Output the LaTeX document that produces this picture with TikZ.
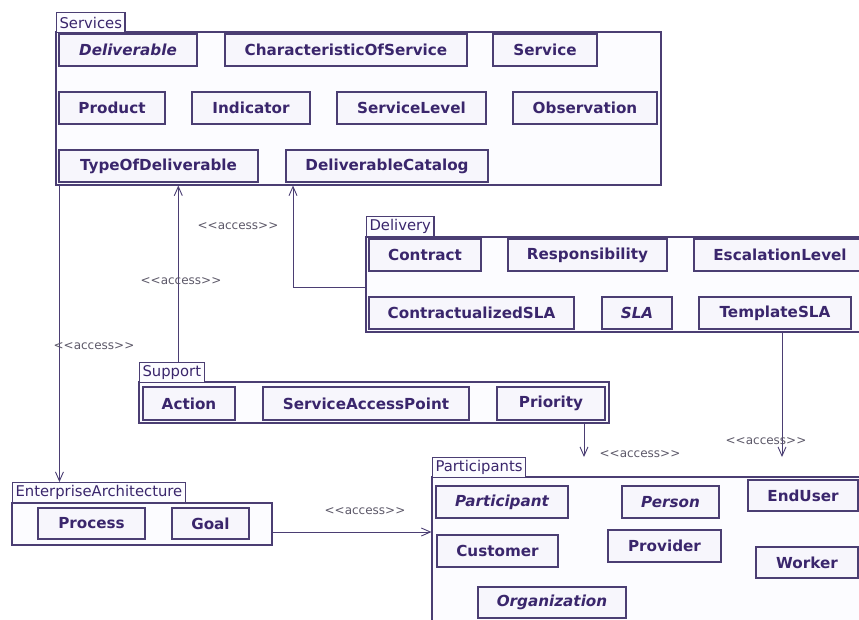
\documentclass[tikz,border=0pt]{standalone}
\usepackage{fontspec}
\usetikzlibrary{arrows.meta}
\newfontfamily\dv{DejaVu Sans}
\definecolor{linec}{RGB}{75,62,115}
\definecolor{textc}{RGB}{58,38,108}
\definecolor{clsfill}{RGB}{247,246,252}
\definecolor{pkgfill}{RGB}{252,252,255}
\definecolor{labelc}{RGB}{92,88,104}
\tikzset{
  pkgbody/.style={draw=linec, fill=pkgfill, line width=1.1pt},
  pkgtab/.style={draw=linec, fill=pkgfill, line width=1.1pt, anchor=north west,
    inner xsep=3pt, inner ysep=0pt, minimum height=20pt, text=textc,
    font=\dv\fontsize{14.8}{16}\selectfont},
  umlcls/.style={draw=linec, fill=clsfill, line width=1.1pt, inner sep=0pt,
    text=textc, font=\dv\bfseries\fontsize{15.2}{17}\selectfont},
  abstractcls/.style={font=\dv\bfseries\itshape\fontsize{15.2}{17}\selectfont},
  acc/.style={draw=linec, line width=0.9pt, -{Straight Barb[length=9pt,width=8pt]}},
  acclabel/.style={text=labelc, inner sep=0pt, font=\dv\fontsize{12}{14}\selectfont}
}
% a box given by its corners: [options]{name}{x1}{y1}{x2}{y2}{text}
\newcommand\boxat[7][]{%
  \node[#1, minimum width={(#5-#3)*1pt}, minimum height={(#6-#4)*1pt}]
    (#2) at ({(#3+#5)/2},{(#4+#6)/2}) {#7};}
\begin{document}
\begin{tikzpicture}[x=1pt, y=-1pt]
\useasboundingbox (0,0) rectangle (859,619);
\clip (0,0) rectangle (859,619);

% ---- Services
\boxat[pkgbody]{svc}{56}{32}{661}{185}{}
\node[pkgtab] (svctab) at (56,12) {Services};
\boxat[umlcls,abstractcls]{deliverable}{59}{34}{197}{66}{Deliverable}
\boxat[umlcls]{charsvc}{225}{34}{467}{66}{CharacteristicOfService}
\boxat[umlcls]{service}{493}{34}{597}{66}{Service}
\boxat[umlcls]{product}{59}{92}{165}{124}{Product}
\boxat[umlcls]{indicator}{192}{92}{310}{124}{Indicator}
\boxat[umlcls]{svclevel}{337}{92}{486}{124}{ServiceLevel}
\boxat[umlcls]{observation}{513}{92}{657}{124}{Observation}
\boxat[umlcls]{typedel}{59}{150}{258}{182}{TypeOfDeliverable}
\boxat[umlcls]{delcat}{286}{150}{488}{182}{DeliverableCatalog}

% ---- Delivery
\boxat[pkgbody]{del}{366}{237}{880}{332}{}
\node[pkgtab] (deltab) at (366,216) {Delivery};
\boxat[umlcls]{contract}{369}{239}{481}{271}{Contract}
\boxat[umlcls]{respons}{508}{239}{667}{271}{Responsibility}
\boxat[umlcls]{escal}{694}{239}{866}{271}{EscalationLevel}
\boxat[umlcls]{contrsla}{369}{297}{574}{329}{ContractualizedSLA}
\boxat[umlcls,abstractcls]{sla}{602}{297}{672}{329}{SLA}
\boxat[umlcls]{tplsla}{699}{297}{851}{329}{TemplateSLA}

% ---- Support
\boxat[pkgbody]{sup}{139}{382}{609}{423}{}
\node[pkgtab] (suptab) at (139,362) {Support};
\boxat[umlcls]{action}{143}{387}{235}{420}{Action}
\boxat[umlcls]{sap}{263}{387}{469}{420}{ServiceAccessPoint}
\boxat[umlcls]{priority}{497}{387}{605}{420}{Priority}

% ---- EnterpriseArchitecture
\boxat[pkgbody]{ea}{12}{503}{272}{545}{}
\node[pkgtab] (eatab) at (12,482) {EnterpriseArchitecture};
\boxat[umlcls]{process}{38}{508}{145}{539}{Process}
\boxat[umlcls]{goal}{172}{508}{249}{539}{Goal}

% ---- Participants
\boxat[pkgbody]{part}{432}{477}{890}{650}{}
\node[pkgtab] (parttab) at (432,457) {Participants};
\boxat[umlcls,abstractcls]{participant}{436}{486}{568}{518}{Participant}
\boxat[umlcls,abstractcls]{person}{622}{486}{719}{518}{Person}
\boxat[umlcls]{enduser}{748}{480}{858}{511}{EndUser}
\boxat[umlcls]{customer}{437}{535}{558}{567}{Customer}
\boxat[umlcls]{provider}{608}{530}{721}{562}{Provider}
\boxat[umlcls]{worker}{756}{547}{858}{578}{Worker}
\boxat[umlcls,abstractcls]{organization}{478}{587}{626}{618}{Organization}

% ---- access dependencies
\coordinate (kdel) at (293,0);
\coordinate (kpri) at (584,0);
\coordinate (ktpl) at (782,0);

\draw[acc] ([xshift=4pt]svc.south west) -- ([xshift=4pt]svc.south west |- eatab.north);
\node[acclabel] (l1) at (94,346) {<<access>>};

\draw[acc] ([xshift=6.5pt]suptab.north) -- ([xshift=6.5pt]suptab.north |- svc.south);
\node[acclabel] (l2) at (181,281) {<<access>>};

\draw[acc] ([yshift=-2.5pt]del.west) -| (svc.south -| kdel);
\node[acclabel] (l3) at (238,226) {<<access>>};

\draw[acc] (sup.south -| kpri) -- (parttab.north -| kpri);
\node[acclabel] (l4) at (640,454) {<<access>>};

\draw[acc] (del.south -| ktpl) -- (parttab.north -| ktpl);
\node[acclabel] (l5) at (766,441) {<<access>>};

\draw[acc] ([yshift=-8pt]ea.east) -- ([yshift=-8pt]ea.east -| part.west);
\node[acclabel] (l6) at (365,511) {<<access>>};
\end{tikzpicture}
\end{document}
